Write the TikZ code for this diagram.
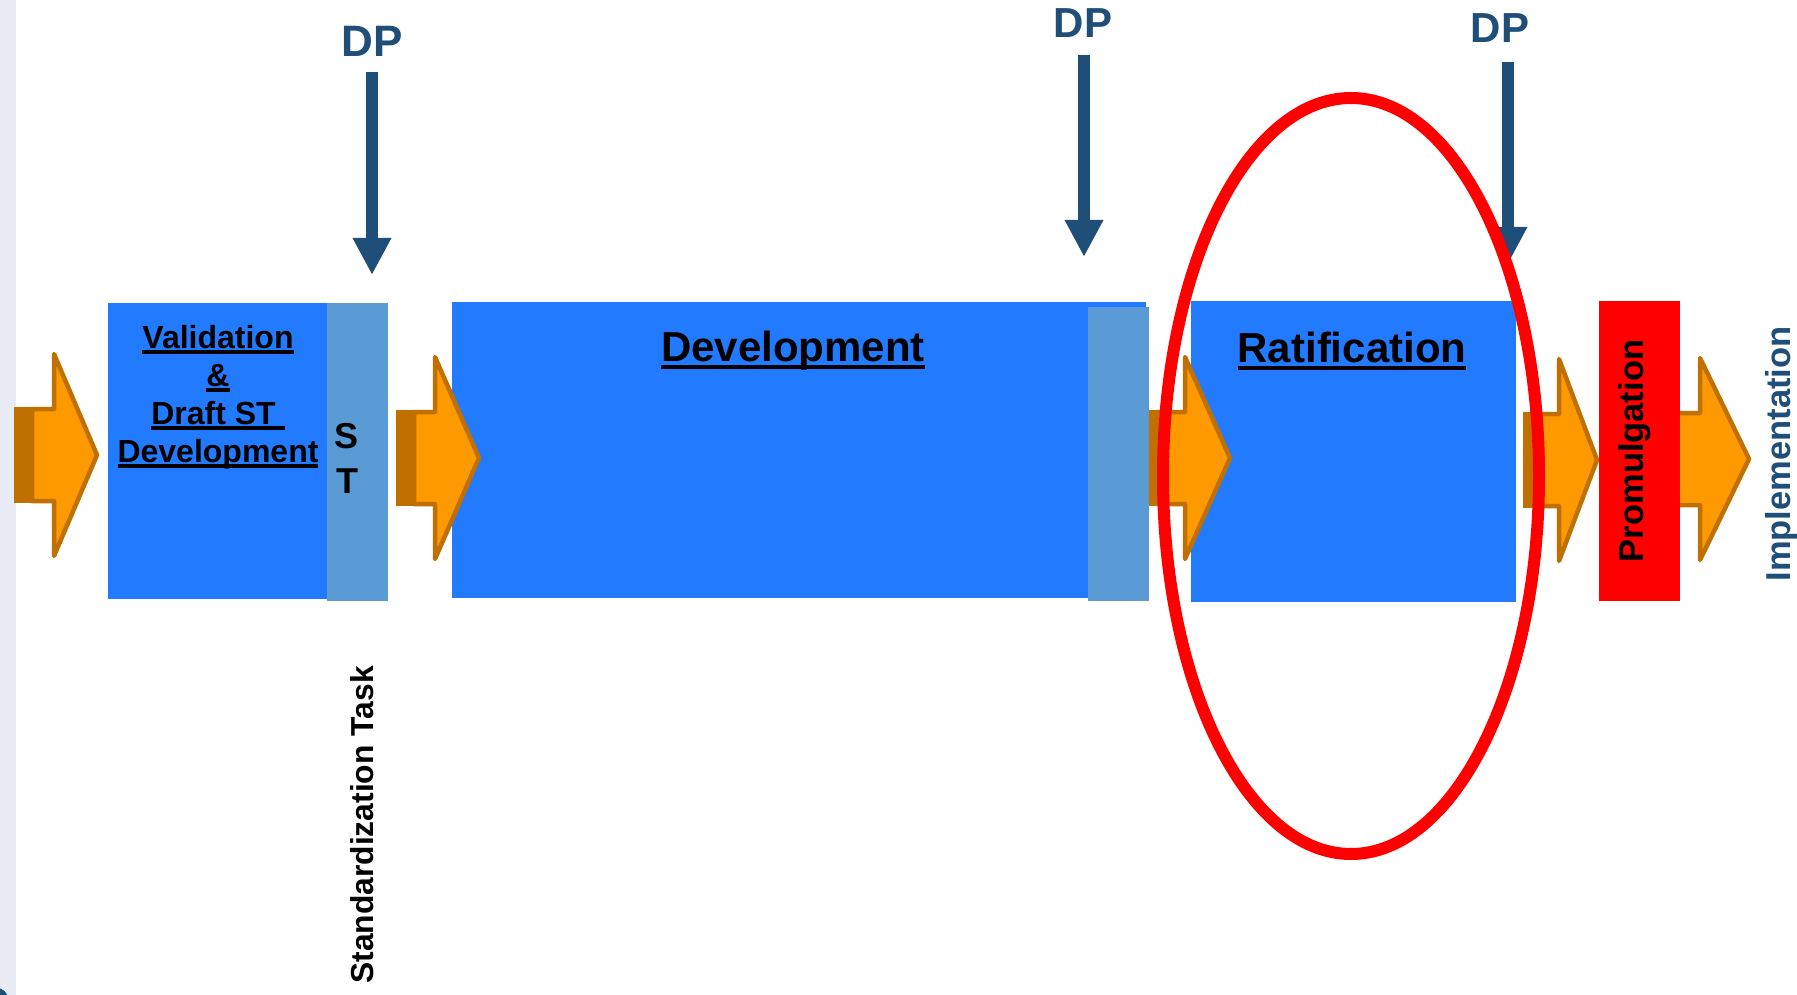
\documentclass[tikz,border=0pt]{standalone}
\usepackage{fontspec}
\setmainfont{Liberation Sans}
\usetikzlibrary{arrows.meta}
\definecolor{boxblue}{RGB}{34,122,255}
\definecolor{stblue}{RGB}{91,155,213}
\definecolor{orfill}{RGB}{255,153,0}
\definecolor{ordark}{RGB}{192,112,0}
\definecolor{dpblue}{RGB}{31,78,121}
\definecolor{sidestrip}{RGB}{233,236,245}
\definecolor{promred}{RGB}{255,0,0}
\newcommand{\myul}[1]{\setbox0=\hbox{#1}\rlap{\rule[-0.2em]{\wd0}{4pt}}\box0}
\newcommand{\orarrow}[5]{% shadow left, shaft left, head base, tip, centre y
  \fill[ordark] (#1,{#5-48}) rectangle ({#2+2},{#5+48});
  \draw[orarrowstyle] (#2,{#5-46}) -- ({#3+2},{#5-46}) -- ({#3+2},{#5-101}) -- ({#4-3},#5) -- ({#3+2},{#5+101}) -- ({#3+2},{#5+46}) -- (#2,{#5+46}) -- cycle;
}
\begin{document}
\begin{tikzpicture}[x=1pt,y=-1pt,
  blockbox/.style={fill=boxblue, draw=none, inner sep=0, outer sep=0, anchor=north west},
  stbox/.style={fill=stblue, draw=none, inner sep=0, outer sep=0, anchor=north west},
  redbox/.style={fill=promred, draw=none, inner sep=0, outer sep=0, anchor=north west},
  orarrowstyle/.style={fill=orfill, draw=ordark, line width=4.5pt, line join=round},
  txt/.style={inner sep=0, outer sep=0, text=black},
  dptxt/.style={inner sep=0, outer sep=0, text=dpblue, anchor=base, font=\bfseries\fontsize{42}{50}\selectfont},
  dparrow/.style={draw=dpblue, line width=12pt, -{Triangle[width=36pt,length=37pt]}},
  ring/.style={draw=promred, line width=12pt}]
\useasboundingbox (0,0) rectangle (1797,995);
\fill[white] (0,0) rectangle (1797,995);
\fill[sidestrip] (0,0) rectangle (16,995);
\begin{scope}
\clip (0,0) rectangle (1797,995);
\fill[dpblue] (-3,999) circle (11);
\end{scope}
% boxes
\node[blockbox, minimum width=219pt, minimum height=296pt] (val) at (108,303) {};
\node[stbox, minimum width=61pt, minimum height=298pt] (st) at (327,303) {};
\node[blockbox, minimum width=694pt, minimum height=296pt] (dev) at (452,302) {};
\node[stbox, minimum width=61pt, minimum height=294pt] (devst) at (1088,307) {};
\node[blockbox, minimum width=325pt, minimum height=301pt] (rat) at (1191,301) {};
% orange arrows
\orarrow{14}{32}{52}{100}{455}
\orarrow{396}{414}{433}{482}{458}
\orarrow{1149}{1157}{1183}{1233}{458}
\orarrow{1523}{1532}{1557}{1600}{460}
\orarrow{1676}{1676}{1698}{1752}{459}
\node[redbox, minimum width=81pt, minimum height=300pt] (prom) at (1599,301) {};
% texts
\node[txt, anchor=base, align=center, font=\bfseries\fontsize{32}{38}\selectfont] (valtxt) at (218,462)
  {\myul{Validation}\\\myul{\&}\\\myul{Draft ST\ }\\\myul{Development}};
\node[txt, anchor=base, align=center, font=\bfseries\fontsize{36}{45}\selectfont] (sttxt) at (347,493) {S\\T};
\node[txt, anchor=base, font=\bfseries\fontsize{42}{50}\selectfont] (devtxt) at (793,361) {\myul{Development}};
\node[txt, anchor=base, font=\bfseries\fontsize{42}{50}\selectfont] (rattxt) at (1352,362) {\myul{Ratification}};
\node[txt, anchor=base, rotate=90, font=\bfseries\fontsize{34.5}{40}\selectfont] (promtxt) at (1643,451) {Promulgation};
\node[txt, anchor=base, rotate=90, text=dpblue, font=\bfseries\fontsize{34.5}{40}\selectfont] (impltxt) at (1790,454) {Implementation};
\node[txt, anchor=base, rotate=90, font=\bfseries\fontsize{31.8}{37}\selectfont] (sttask) at (373,825) {Standardization Task};
% decision points
\node[dptxt, font=\bfseries\fontsize{44}{50}\selectfont] (dp1) at (372,57) {DP};
\node[dptxt] (dp2) at (1083,38) {DP};
\node[dptxt] (dp3) at (1500,43) {DP};
\coordinate (dp1s) at (372,72);  \coordinate (dp1e) at (372,275);
\coordinate (dp2s) at (1084,55); \coordinate (dp2e) at (1084,257);
\coordinate (dp3s) at (1508,62); \coordinate (dp3e) at (1508,264);
\draw[dparrow] (dp1s) -- (dp1e);
\draw[dparrow] (dp2s) -- (dp2e);
\draw[dparrow] (dp3s) -- (dp3e);
% red ellipse around ratification
\draw[ring] (1351,476) ellipse [x radius=188, y radius=378];
\end{tikzpicture}
\end{document}
